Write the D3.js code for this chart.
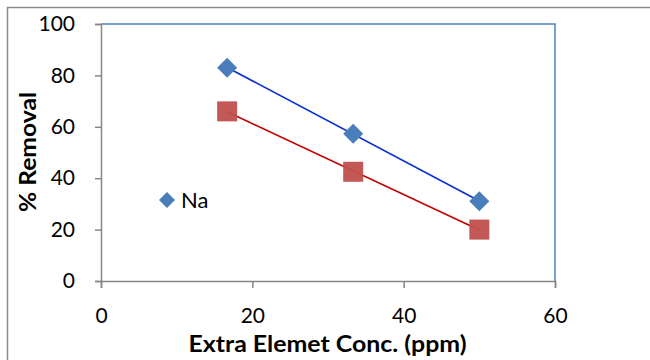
<!DOCTYPE html>
<html>
<head>
<meta charset="utf-8">
<script src="https://cdn.jsdelivr.net/npm/d3@7"></script>
<style>
  body { margin: 0; background: #fff; }
  svg { display: block; }
  .tick text { font-family: Lato, "Open Sans", sans-serif; font-size: 21px; fill: #000; }
</style>
</head>
<body>
<svg width="650" height="360"></svg>
<script>
const conc = [16.67, 33.33, 50]
const naRemoval = [83, 57.3, 31]
const otherRemoval = [66, 42.5, 20]
const xTicks = [0, 20, 40, 60]
const yTicks = [0, 20, 40, 60, 80, 100]

const svg = d3.select("svg")
const plotLeft = 101, plotRight = 555, plotTop = 24, plotBottom = 281

// outer chart frame
svg.append("rect")
  .attr("x", 7.5).attr("y", 7.5)
  .attr("width", 700).attr("height", 400)
  .attr("fill", "none").attr("stroke", "#8c8c8c").attr("stroke-width", 1.5)

const x = d3.scaleLinear().domain([0, 60]).range([plotLeft, plotRight])
const y = d3.scaleLinear().domain([0, 100]).range([plotBottom, plotTop])

// plot area border (top/right blue)
svg.append("path")
  .attr("d", `M${plotLeft},${plotTop}H${plotRight}V${plotBottom}`)
  .attr("fill", "none").attr("stroke", "#4f81bd").attr("stroke-width", 1.5)

const yAxis = svg.append("g")
  .attr("transform", `translate(${plotLeft},0)`)
  .call(d3.axisLeft(y).tickValues(yTicks).tickSize(6).tickPadding(20))
const xAxis = svg.append("g")
  .attr("transform", `translate(0,${plotBottom})`)
  .call(d3.axisBottom(x).tickValues(xTicks).tickSize(7).tickPadding(20))
;[yAxis, xAxis].forEach(g => {
  g.select(".domain").attr("stroke", "#868686").attr("stroke-width", 1.5)
  g.selectAll(".tick line").attr("stroke", "#868686").attr("stroke-width", 1.5)
})

// linear fit
function fit(xs, ys) {
  const mx = d3.mean(xs), my = d3.mean(ys)
  const b = d3.sum(xs, (v, i) => (v - mx) * (ys[i] - my)) / d3.sum(xs, v => (v - mx) ** 2)
  return v => my + b * (v - mx)
}
const fNa = fit(conc, naRemoval), fOther = fit(conc, otherRemoval)
const x0 = d3.min(conc), x1 = d3.max(conc)

svg.append("line")
  .attr("x1", x(x0)).attr("y1", y(fOther(x0)))
  .attr("x2", x(x1)).attr("y2", y(fOther(x1)))
  .attr("stroke", "#c00000").attr("stroke-width", 1.6)

svg.append("line")
  .attr("x1", x(x0)).attr("y1", y(fNa(x0)))
  .attr("x2", x(x1)).attr("y2", y(fNa(x1)))
  .attr("stroke", "#0a2fd0").attr("stroke-width", 1.6)

// squares (red series)
svg.selectAll(".sq").data(conc).enter().append("rect")
  .attr("class", "sq")
  .attr("x", d => x(d) - 10)
  .attr("y", (d, i) => y(otherRemoval[i]) - 10)
  .attr("width", 20).attr("height", 20)
  .attr("fill", "#c0504d").attr("fill-opacity", 0.95)

// diamonds (Na)
const diamond = "M0,-10L10,0L0,10L-10,0Z"
svg.selectAll(".dm").data(conc).enter().append("path")
  .attr("class", "dm")
  .attr("d", diamond)
  .attr("transform", (d, i) => `translate(${x(d)},${y(naRemoval[i])})`)
  .attr("fill", "#4a7ebb")

// legend
svg.append("path").attr("d", "M0,-8L8,0L0,8L-8,0Z")
  .attr("transform", "translate(167,200)").attr("fill", "#4a7ebb")
svg.append("text").attr("x", 181).attr("y", 208)
  .attr("font-family", "Lato, sans-serif").attr("font-size", 22)
  .text("Na")

// axis titles
svg.append("text")
  .attr("x", (plotLeft + plotRight) / 2 - 0.5).attr("y", 352)
  .attr("text-anchor", "middle")
  .attr("font-family", "Lato, sans-serif").attr("font-size", 22).attr("font-weight", "bold")
  .attr("textLength", 278).attr("lengthAdjust", "spacingAndGlyphs")
  .text("Extra Elemet Conc. (ppm)")
svg.append("text")
  .attr("transform", "translate(36,152) rotate(-90)")
  .attr("text-anchor", "middle")
  .attr("font-family", "Lato, sans-serif").attr("font-size", 22).attr("font-weight", "bold")
  .attr("textLength", 120).attr("lengthAdjust", "spacingAndGlyphs")
  .text("% Removal")
</script>
</body>
</html>
